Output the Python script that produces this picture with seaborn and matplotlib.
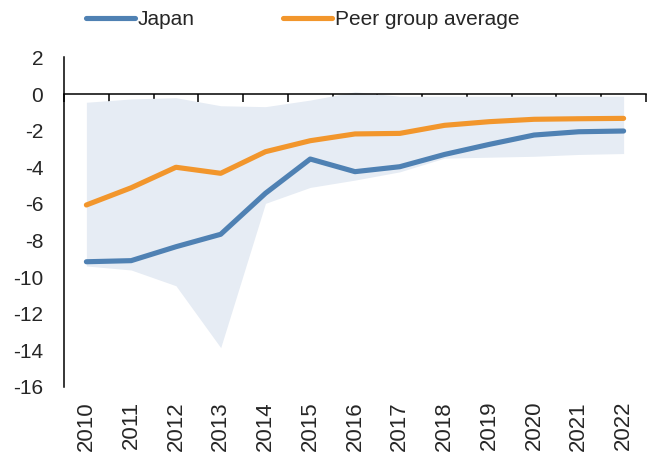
import matplotlib
matplotlib.use("Agg")
import matplotlib.pyplot as plt
import seaborn as sns
import pandas as pd

years = [2010, 2011, 2012, 2013, 2014, 2015, 2016, 2017, 2018, 2019, 2020, 2021, 2022]
japan = [-9.16, -9.10, -8.34, -7.66, -5.42, -3.55, -4.24, -3.97, -3.30, -2.75, -2.24, -2.06, -2.02]
peer_avg = [-6.06, -5.12, -4.00, -4.33, -3.15, -2.55, -2.18, -2.15, -1.71, -1.51, -1.38, -1.35, -1.33]
peer_max = [-0.45, -0.27, -0.20, -0.64, -0.69, -0.33, 0.12, -0.12, -0.12, -0.12, -0.12, -0.12, -0.12]
peer_min = [-9.39, -9.61, -10.47, -13.85, -5.97, -5.10, -4.70, -4.25, -3.50, -3.45, -3.40, -3.30, -3.25]
y_ticks = [2, 0, -2, -4, -6, -8, -10, -12, -14, -16]

df = pd.DataFrame({"year": years, "Japan": japan, "Peer group average": peer_avg,
                   "lo": peer_min, "hi": peer_max})

sns.set_theme(style="white")
plt.rcParams["font.family"] = ["Liberation Sans", "DejaVu Sans"]
plt.rcParams["font.size"] = 15

BLUE = "#4f81b3"
ORANGE = "#f2962c"
SHADE = "#e6ecf4"

fig = plt.figure(figsize=(6.48, 4.59), dpi=100)
ax = fig.add_axes([64 / 648, 72 / 459, 582 / 648, 329.6 / 459])

ax.fill_between(df["year"], df["lo"], df["hi"], color=SHADE, linewidth=0, zorder=1)
sns.lineplot(data=df, x="year", y="Japan", ax=ax, color=BLUE, linewidth=3.7,
             solid_capstyle="round", label="Japan", zorder=3)
sns.lineplot(data=df, x="year", y="Peer group average", ax=ax, color=ORANGE, linewidth=3.7,
             solid_capstyle="round", label="Peer group average", zorder=3)

ax.set_xlim(years[0] - 0.5, years[-1] + 0.5)
ax.set_ylim(-16, 2)
ax.set_yticks(y_ticks)
ax.set_yticklabels([str(v) for v in y_ticks], fontsize=15)
ax.tick_params(axis="y", length=0, pad=15)
ax.set_xlabel("")
ax.set_ylabel("")

# bottom spine sits on zero, with ticks between the years
for side in ["top", "right"]:
    ax.spines[side].set_visible(False)
ax.spines["bottom"].set_position(("data", 0))
for side in ["bottom", "left"]:
    ax.spines[side].set_color("black")
    ax.spines[side].set_linewidth(1.1)
    ax.spines[side].set_zorder(4)
ax.set_xticks([y - 0.5 for y in years] + [years[-1] + 0.5])
ax.tick_params(axis="x", direction="out", length=6, width=1.1, color="black",
               bottom=True, labelbottom=False)

# year labels along the bottom of the plot area
sec = ax.secondary_xaxis(0)
sec.set_xticks(years)
sec.set_xticklabels([str(y) for y in years], rotation=90, fontsize=16)
sec.tick_params(axis="x", length=0, pad=10)
sec.spines["bottom"].set_visible(False)

leg = ax.legend(ncol=2, frameon=False, loc="center left", bbox_to_anchor=(0.0378, 1.1135),
                borderaxespad=0, borderpad=0, handlelength=2.35, handletextpad=0.15,
                columnspacing=4.2, fontsize=15)
for h in leg.get_lines():
    h.set_solid_capstyle("round")

fig.savefig("out.png", dpi=100)
